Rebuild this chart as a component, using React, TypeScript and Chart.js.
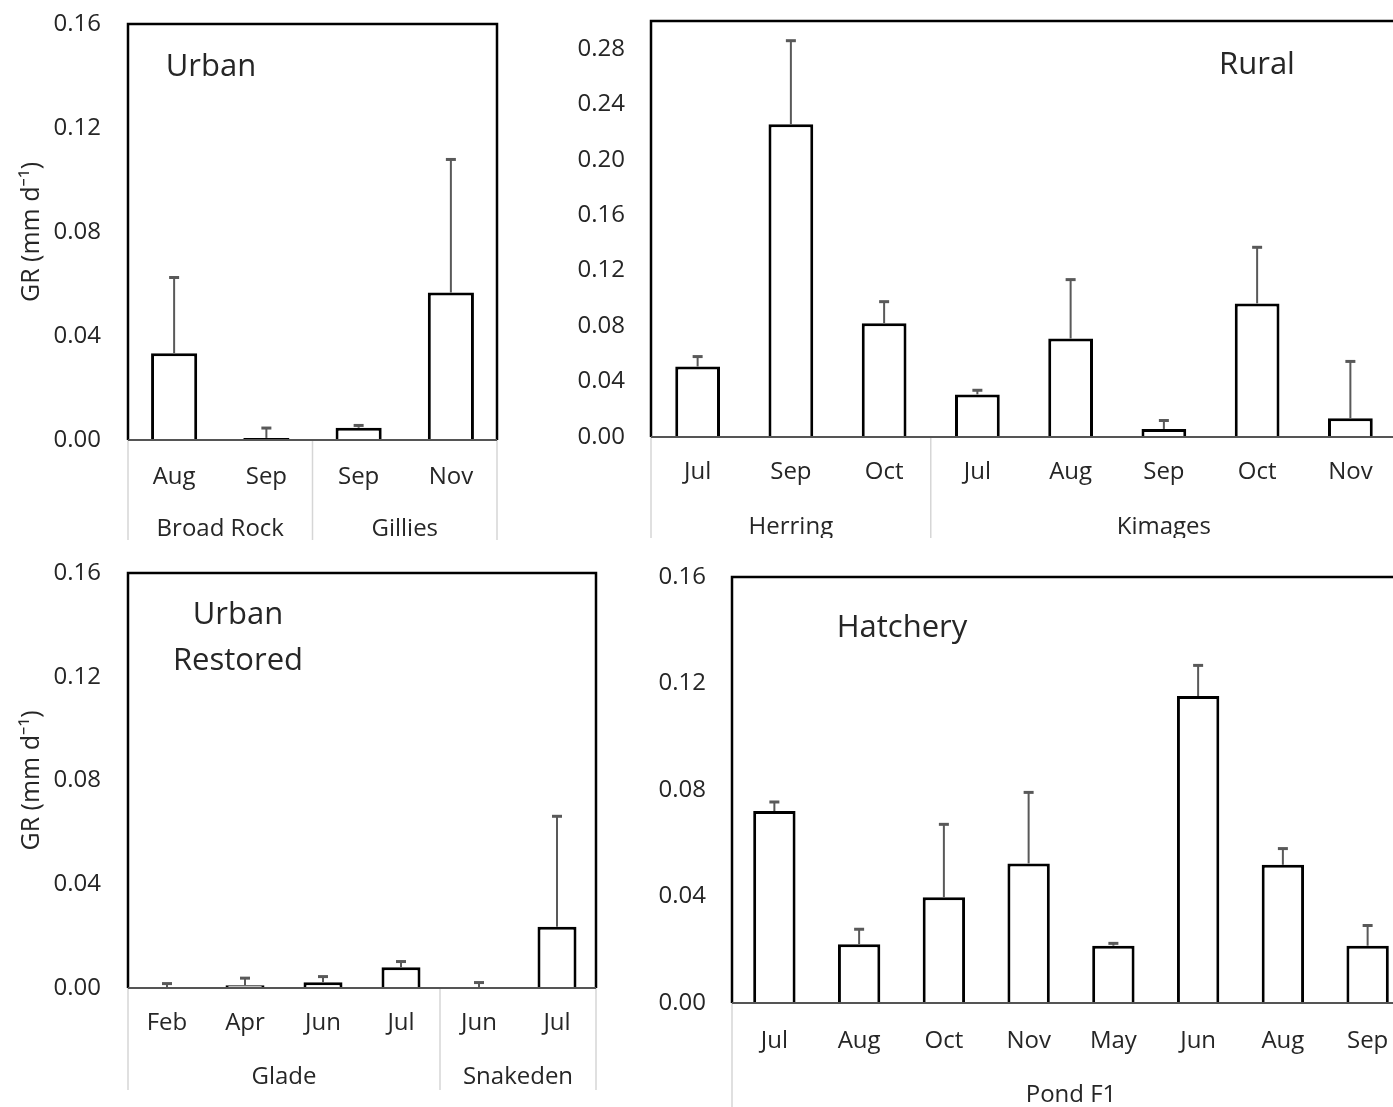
import React, { useEffect, useRef } from "react";
import { Chart, registerables } from "chart.js";

Chart.register(...registerables);

// ---------- DATA ----------
const urbanMonths = ["Aug", "Sep", "Sep", "Nov"];
const urbanValues = [0.0334, 0.0008, 0.0047, 0.0567];
const urbanErrors = [0.0291, 0.0038, 0.0009, 0.0512];
const urbanSites = ["Broad Rock", "Gillies"];
const urbanSiteCounts = [2, 2];
const urbanTicks = [0, 0.04, 0.08, 0.12, 0.16];

const ruralMonths = ["Jul", "Sep", "Oct", "Jul", "Aug", "Sep", "Oct", "Nov"];
const ruralValues = [0.0508, 0.2255, 0.0821, 0.0307, 0.071, 0.0058, 0.0963, 0.0135];
const ruralErrors = [0.0072, 0.0603, 0.0155, 0.003, 0.0425, 0.0061, 0.0405, 0.041];
const ruralSites = ["Herring", "Kimages"];
const ruralSiteCounts = [3, 5];
const ruralTicks = [0, 0.04, 0.08, 0.12, 0.16, 0.2, 0.24, 0.28];

const restoredMonths = ["Feb", "Apr", "Jun", "Jul", "Jun", "Jul"];
const restoredValues = [0, 0.0011, 0.0022, 0.008, 0, 0.0236];
const restoredErrors = [0.0017, 0.0027, 0.0022, 0.0022, 0.0021, 0.0426];
const restoredSites = ["Glade", "Snakeden"];
const restoredSiteCounts = [4, 2];
const restoredTicks = [0, 0.04, 0.08, 0.12, 0.16];

const hatcheryMonths = ["Jul", "Aug", "Oct", "Nov", "May", "Jun", "Aug", "Sep"];
const hatcheryValues = [0.0721, 0.0221, 0.0397, 0.0524, 0.0215, 0.1153, 0.0519, 0.0215];
const hatcheryErrors = [0.0034, 0.0056, 0.0274, 0.0267, 0.0009, 0.0115, 0.0061, 0.0076];
const hatcherySites = ["Pond F1"];
const hatcherySiteCounts = [8];
const hatcheryTicks = [0, 0.04, 0.08, 0.12, 0.16];

const Y_TITLE = "GR (mm d\u207B\u00B9)";

// ---------- STYLE ----------
const FONT = '"Open Sans", "Noto Sans", sans-serif';
const TEXT = "#262626";

type PanelCfg = {
  left: number;
  top: number;
  width: number;
  height: number;
  yAxisW: number;
  padTop: number;
  padRight: number;
  xAxisH: number;
  months: string[];
  values: number[];
  errors: number[];
  sites: string[];
  siteCounts: number[];
  ticks: number[];
  max: number;
  barPct: number;
  yTitle?: string;
  titleLines: string[];
  titleX: number;
  titleY: number;
  titleLineH: number;
  sepLen: number;
  monthPad: number;
  siteGap: number;
  tickPad: number;
};

const panels: PanelCfg[] = [
  {
    left: 0, top: 0, width: 520, height: 545,
    yAxisW: 128, padTop: 24, padRight: 23, xAxisH: 105,
    months: urbanMonths, values: urbanValues, errors: urbanErrors,
    sites: urbanSites, siteCounts: urbanSiteCounts,
    ticks: urbanTicks, max: 0.16, barPct: 0.5, yTitle: Y_TITLE,
    titleLines: ["Urban"], titleX: 211, titleY: 67, titleLineH: 46,
    sepLen: 100, monthPad: 22.6, siteGap: 89, tickPad: 27,
  },
  {
    left: 520, top: 0, width: 877, height: 538,
    yAxisW: 131, padTop: 21, padRight: 0, xAxisH: 101,
    months: ruralMonths, values: ruralValues, errors: ruralErrors,
    sites: ruralSites, siteCounts: ruralSiteCounts,
    ticks: ruralTicks, max: 0.3, barPct: 0.48,
    titleLines: ["Rural"], titleX: 737, titleY: 65, titleLineH: 46,
    sepLen: 101, monthPad: 20.6, siteGap: 90, tickPad: 26,
  },
  {
    left: 0, top: 548, width: 620, height: 559,
    yAxisW: 128, padTop: 25, padRight: 24, xAxisH: 119,
    months: restoredMonths, values: restoredValues, errors: restoredErrors,
    sites: restoredSites, siteCounts: restoredSiteCounts,
    ticks: restoredTicks, max: 0.16, barPct: 0.5, yTitle: Y_TITLE,
    titleLines: ["Urban", "Restored"], titleX: 238, titleY: 67, titleLineH: 46,
    sepLen: 102, monthPad: 20.6, siteGap: 89, tickPad: 27,
  },
  {
    left: 620, top: 548, width: 790, height: 559,
    yAxisW: 112, padTop: 29, padRight: 0, xAxisH: 104,
    months: hatcheryMonths, values: hatcheryValues, errors: hatcheryErrors,
    sites: hatcherySites, siteCounts: hatcherySiteCounts,
    ticks: hatcheryTicks, max: 0.16, barPct: 0.5,
    titleLines: ["Hatchery"], titleX: 282, titleY: 80, titleLineH: 46,
    sepLen: 104, monthPad: 23.6, siteGap: 92, tickPad: 26,
  },
];

function makeDecor(cfg: PanelCfg) {
  return {
    id: "decor",
    afterDatasetsDraw(chart: any) {
      const { ctx, chartArea, scales } = chart;
      const { left, top, right, bottom } = chartArea;
      const xs = scales.x;
      const ys = scales.y;
      ctx.save();

      // error bars
      const meta = chart.getDatasetMeta(0);
      meta.data.forEach((bar: any, i: number) => {
        const v = cfg.values[i];
        const e = cfg.errors[i];
        const px = bar.x;
        const y0 = ys.getPixelForValue(v);
        const y1 = ys.getPixelForValue(v + e);
        ctx.strokeStyle = "#595959";
        ctx.lineWidth = 2;
        ctx.beginPath();
        ctx.moveTo(px, y0);
        ctx.lineTo(px, y1);
        ctx.stroke();
        ctx.lineWidth = 3;
        ctx.beginPath();
        ctx.moveTo(px - 5, y1);
        ctx.lineTo(px + 5, y1);
        ctx.stroke();
      });

      // separators below axis
      ctx.strokeStyle = "#d6d6d6";
      ctx.lineWidth = 1.5;
      const bounds: number[] = [left];
      let acc = 0;
      cfg.siteCounts.forEach((c, k) => {
        acc += c;
        if (k < cfg.siteCounts.length - 1) {
          bounds.push((xs.getPixelForValue(acc - 1) + xs.getPixelForValue(acc)) / 2);
        }
      });
      bounds.push(right);
      bounds.forEach((bx) => {
        ctx.beginPath();
        ctx.moveTo(bx, bottom);
        ctx.lineTo(bx, bottom + cfg.sepLen);
        ctx.stroke();
      });

      // site labels
      ctx.fillStyle = TEXT;
      ctx.font = `24px ${FONT}`;
      ctx.textAlign = "center";
      ctx.textBaseline = "middle";
      let start = 0;
      cfg.sites.forEach((s, k) => {
        const end = start + cfg.siteCounts[k] - 1;
        const cx = (xs.getPixelForValue(start) + xs.getPixelForValue(end)) / 2;
        ctx.fillText(s, cx, bottom + cfg.siteGap);
        start = end + 1;
      });

      // panel title
      ctx.font = `31px ${FONT}`;
      cfg.titleLines.forEach((t, k) => {
        ctx.fillText(t, cfg.titleX, cfg.titleY + k * cfg.titleLineH);
      });

      // frame
      ctx.strokeStyle = "#000";
      ctx.lineWidth = 2.5;
      ctx.beginPath();
      ctx.moveTo(left, bottom);
      ctx.lineTo(left, top);
      ctx.lineTo(right, top);
      ctx.lineTo(right, bottom);
      ctx.stroke();
      ctx.strokeStyle = "#555";
      ctx.lineWidth = 2;
      ctx.beginPath();
      ctx.moveTo(left, bottom);
      ctx.lineTo(right, bottom);
      ctx.stroke();

      ctx.restore();
    },
  };
}

function Panel({ cfg }: { cfg: PanelCfg }) {
  const ref = useRef<HTMLCanvasElement>(null);
  useEffect(() => {
    if (!ref.current) return;
    const chart = new Chart(ref.current, {
      type: "bar",
      data: {
        labels: cfg.months,
        datasets: [
          {
            data: cfg.values,
            backgroundColor: "#ffffff",
            borderColor: "#000000",
            borderWidth: 3,
            borderSkipped: "bottom",
            barPercentage: cfg.barPct,
            categoryPercentage: 1,
          },
        ],
      },
      options: {
        animation: false,
        responsive: false,
        maintainAspectRatio: false,
        events: [],
        layout: { padding: { top: cfg.padTop, right: cfg.padRight, left: 0, bottom: 0 } },
        plugins: { legend: { display: false }, tooltip: { enabled: false }, title: { display: false } },
        scales: {
          x: {
            type: "category",
            grid: { display: false, drawTicks: false },
            border: { display: false },
            ticks: {
              autoSkip: false,
              maxRotation: 0,
              minRotation: 0,
              padding: cfg.monthPad,
              color: TEXT,
              font: { family: FONT, size: 24 },
            },
            afterFit: (s: any) => {
              s.height = cfg.xAxisH;
              s.paddingLeft = 0;
              s.paddingRight = 0;
              s.paddingTop = 0;
              s.paddingBottom = 0;
            },
          },
          y: {
            min: 0,
            max: cfg.max,
            grid: { display: false, drawTicks: false },
            border: { display: false },
            afterBuildTicks: (s: any) => {
              s.ticks = cfg.ticks.map((v) => ({ value: v }));
            },
            ticks: {
              padding: cfg.tickPad,
              color: TEXT,
              font: { family: FONT, size: 24 },
              callback: (v: any) => Number(v).toFixed(2),
            },
            title: {
              display: !!cfg.yTitle,
              text: cfg.yTitle || "",
              color: TEXT,
              font: { family: FONT, size: 25 },
              padding: { top: 17, bottom: 0 },
            },
            afterFit: (s: any) => {
              s.width = cfg.yAxisW;
              s.paddingTop = 0;
              s.paddingBottom = 0;
              s.paddingLeft = 0;
              s.paddingRight = 0;
            },
          },
        },
      },
      plugins: [makeDecor(cfg)],
    } as any);
    return () => chart.destroy();
  }, [cfg]);
  return (
    <canvas
      ref={ref}
      width={cfg.width}
      height={cfg.height}
      style={{
        position: "absolute",
        left: cfg.left,
        top: cfg.top,
        width: cfg.width,
        height: cfg.height,
      }}
    />
  );
}

export default function App() {
  return (
    <div
      style={{
        position: "fixed",
        left: 0,
        top: 0,
        width: 1393,
        height: 1107,
        overflow: "hidden",
        background: "#ffffff",
      }}
    >
      {panels.map((p, i) => (
        <Panel key={i} cfg={p} />
      ))}
    </div>
  );
}
